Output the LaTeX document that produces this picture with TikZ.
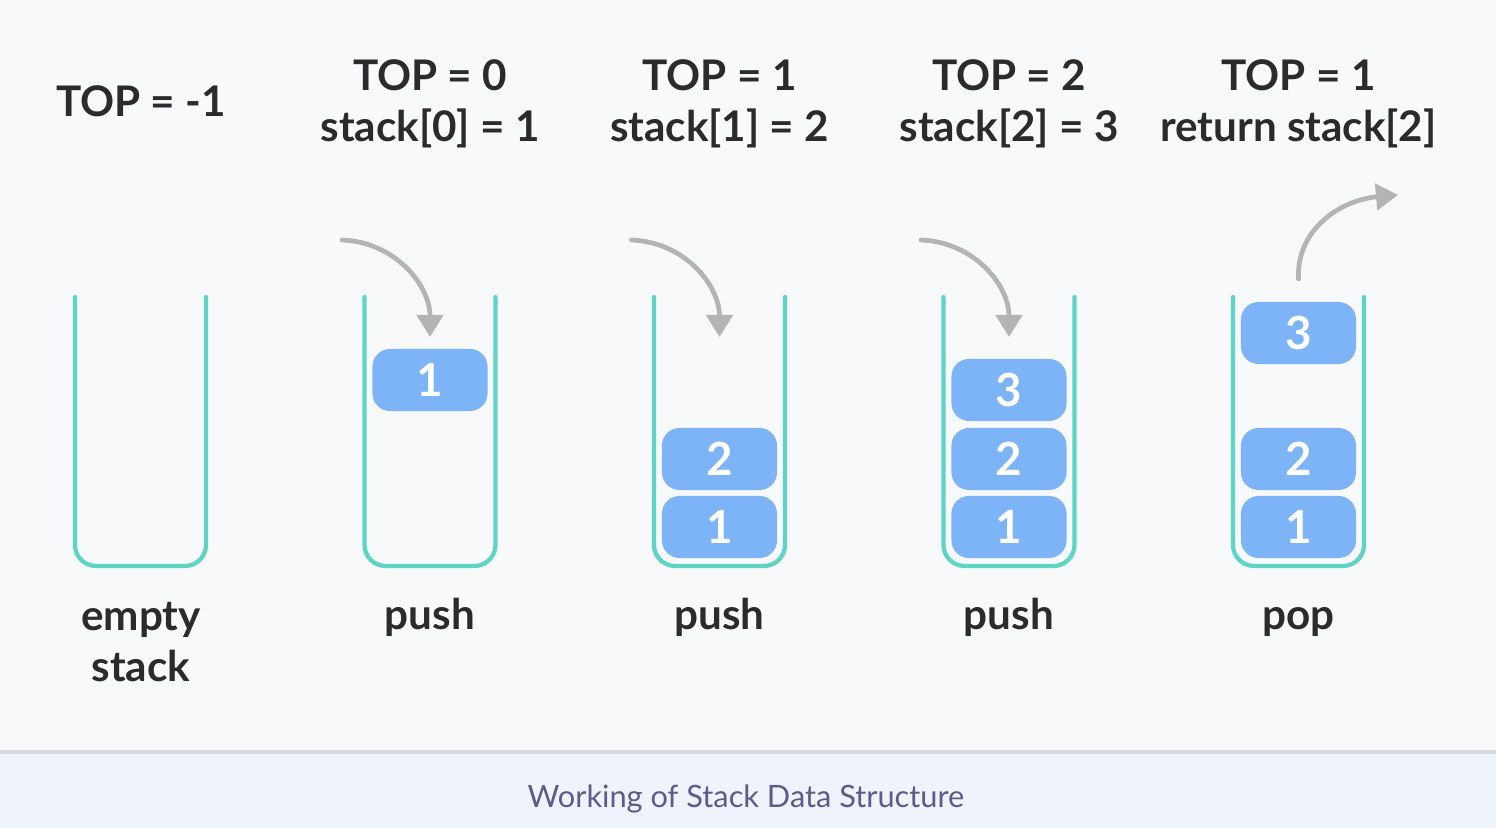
\documentclass[tikz,border=0pt]{standalone}
\usepackage{fontspec}
\setmainfont{Lato}
\usepackage{xcolor}
\usetikzlibrary{calc}
\usetikzlibrary{arrows.meta,positioning}
\definecolor{bg}{HTML}{F8F9FB}
\definecolor{capbg}{HTML}{EFF3FC}
\definecolor{capline}{HTML}{D5D9E0}
\definecolor{capfg}{HTML}{5C5C8A}
\definecolor{teal}{HTML}{5ED4C5}
\definecolor{blk}{HTML}{7CB4F7}
\definecolor{arr}{HTML}{B4B4B4}
\definecolor{ink}{HTML}{2B2B2B}
\tikzstyle{cell}=[rectangle, rounded corners=5pt, fill=blk, text=white,
font=\bfseries\fontsize{13}{13}\selectfont, minimum width=1.15cm,
minimum height=0.62cm, inner sep=0pt]
\tikzstyle{lbl}=[align=center, text=ink, font=\bfseries\fontsize{12}{14.4}\selectfont]
\tikzstyle{cup}=[draw=teal, line width=1.2pt, rounded corners=6pt, line cap=round]
\tikzstyle{mv}=[draw=arr, line width=1.35pt, line cap=round,
-{Triangle[width=0.26cm,length=0.22cm]}]

\begin{document}
\begin{tikzpicture}[x=0.01cm,y=-0.01cm]
\useasboundingbox (0,0) rectangle (1496,828);
\fill[bg] (0,0) rectangle (1496,752);
\fill[capbg] (0,752) rectangle (1496,828);
\draw[capline, line width=1pt] (0,752) -- (1496,752);
\node[text=capfg, font=\fontsize{8.75}{10}\selectfont] (cap) at (746,799) {Working of Stack Data Structure};

% the five stacks
\foreach \x in {140.5,430,719.5,1009,1298.5}
  \draw[cup] (\x-65.5,297) -- (\x-65.5,566) -- (\x+65.5,566) -- (\x+65.5,297);

% top labels
\node[lbl] (t0) at (141,101) {TOP = -1};
\node[lbl] (t1) at (430,104) {TOP = 0\\stack[0] = 1};
\node[lbl] (t2) at (719.5,104) {TOP = 1\\stack[1] = 2};
\node[lbl] (t3) at (1009,104) {TOP = 2\\stack[2] = 3};
\node[lbl] (t4) at (1298.5,104) {TOP = 1\\return stack[2]};

% bottom labels
\node[lbl] (e0) at (141,642) {empty\\stack};
\node[lbl, anchor=base] (e1) at (430,630) {push};
\node[lbl, anchor=base] (e2) at (719.5,630) {push};
\node[lbl, anchor=base] (e3) at (1009,630) {push};
\node[lbl, anchor=base] (e4) at (1298.5,630) {pop};

% cells
\node[cell] (a1) at (430,380) {1};
\node[cell] (b1) at (719.5,527) {1};
\node[cell] (b2) at (719.5,459) {2};
\node[cell] (c1) at (1009,527) {1};
\node[cell] (c2) at (1009,459) {2};
\node[cell] (c3) at (1009,390) {3};
\node[cell] (d1) at (1298.5,527) {1};
\node[cell] (d2) at (1298.5,459) {2};
\node[cell] (d3) at (1298.5,333) {3};

% arrows
\coordinate (p1) at (342,240);
\coordinate (q1) at (430,337);
\coordinate (p2) at (631.5,240);
\coordinate (q2) at (719.5,337);
\coordinate (p3) at (921,240);
\coordinate (q3) at (1009,337);
\coordinate (p4) at (1298.5,279);
\coordinate (q4) at (1398,195);
\draw[mv] (p1) .. controls (395,242) and (430,285) .. (q1);
\draw[mv] (p2) .. controls (684.5,242) and (719.5,285) .. (q2);
\draw[mv] (p3) .. controls (974,242) and (1009,285) .. (q3);
\draw[mv] (p4) .. controls (1296,230) and (1340,200) .. (q4);
\end{tikzpicture}
\end{document}
